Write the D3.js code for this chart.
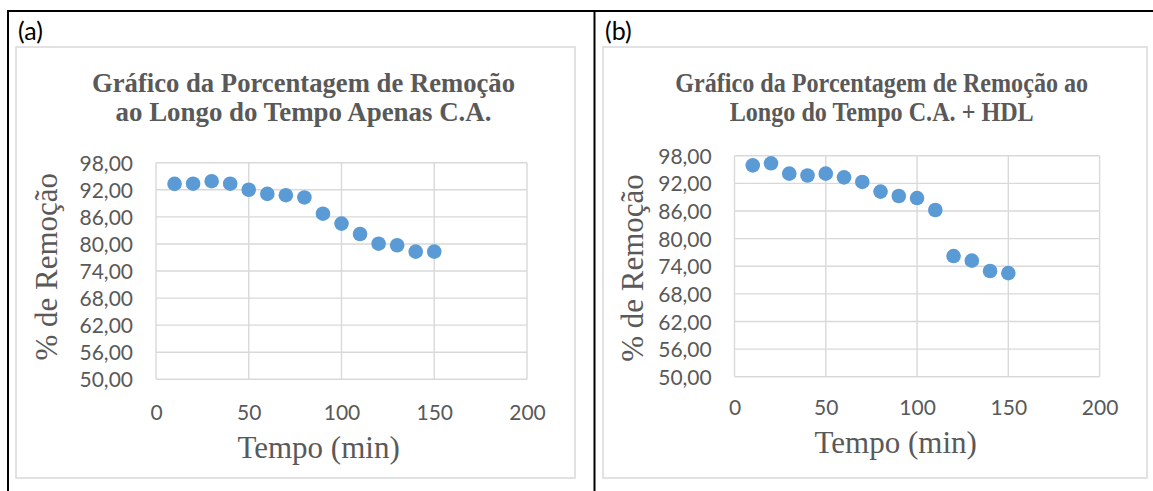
<!DOCTYPE html>
<html>
<head>
<meta charset="utf-8">
<script src="https://cdn.jsdelivr.net/npm/d3@7"></script>
<style>
  html, body { margin: 0; padding: 0; background: #fff; }
  svg { display: block; }
</style>
</head>
<body>
<svg id="fig" width="1153" height="491"></svg>
<script>
// Tempo de contato (min)
const tempo = [10, 20, 30, 40, 50, 60, 70, 80, 90, 100, 110, 120, 130, 140, 150];
// % de remoção, apenas carvão ativado
const remocaoCA = [93.3, 93.35, 93.9, 93.35, 92.0, 91.1, 90.8, 90.3, 86.7, 84.5, 82.2, 80.05, 79.7, 78.3, 78.3];
// % de remoção, carvão ativado + HDL
const remocaoCAHDL = [95.9, 96.35, 94.1, 93.7, 94.1, 93.3, 92.3, 90.2, 89.25, 88.8, 86.2, 76.2, 75.2, 72.95, 72.5];

const yTicks = [50, 56, 62, 68, 74, 80, 86, 92, 98];
const xTicks = [0, 50, 100, 150, 200];

const titlesA = ["Gráfico da Porcentagem de Remoção", "ao Longo do Tempo Apenas C.A."];
const titlesB = ["Gráfico da Porcentagem de Remoção ao", "Longo do Tempo C.A. + HDL"];

const svg = d3.select("#fig");
const grey = "#595959";
const gridColor = "#d9d9d9";
const dotColor = "#5b9bd5";
const fmt = v => v.toFixed(2).replace(".", ",");

// outer table frame
svg.append("line").attr("x1", 7).attr("x2", 1153).attr("y1", 11).attr("y2", 11)
  .attr("stroke", "#000").attr("stroke-width", 2);
svg.append("line").attr("x1", 8).attr("x2", 8).attr("y1", 10).attr("y2", 491)
  .attr("stroke", "#000").attr("stroke-width", 2);
svg.append("line").attr("x1", 594.5).attr("x2", 594.5).attr("y1", 10).attr("y2", 491)
  .attr("stroke", "#000").attr("stroke-width", 2);

const panels = [
  {
    tag: "(a)", tagX: 18, values: remocaoCA, titles: titlesA,
    box: [16, 47, 575, 478],
    plot: { l: 156, r: 527, t: 162.7, b: 379.3 },
    titleX: 303.5, titleW: [423, 376],
    yLabelX: 133, xLabelY: 412.7,
    xTitle: { x: 318.6, y: 458 },
    yTitle: { x: 57, y: 266.7 }
  },
  {
    tag: "(b)", tagX: 605, values: remocaoCAHDL, titles: titlesB,
    box: [603, 47, 1147, 478],
    plot: { l: 734.5, r: 1099.6, t: 155.7, b: 376.7 },
    titleX: 881.7, titleW: [413, 304],
    yLabelX: 711.7, xLabelY: 407.7,
    xTitle: { x: 895.7, y: 453.3 },
    yTitle: { x: 643, y: 268 }
  }
];

panels.forEach(p => {
  const g = svg.append("g");

  // panel tag
  g.append("text").attr("x", p.tagX).attr("y", 40)
    .attr("font-family", "Lato, 'Open Sans', sans-serif").attr("font-size", 25)
    .attr("fill", "#000").text(p.tag);

  // chart area border
  g.append("rect")
    .attr("x", p.box[0]).attr("y", p.box[1])
    .attr("width", p.box[2] - p.box[0]).attr("height", p.box[3] - p.box[1])
    .attr("fill", "#fff").attr("stroke", gridColor).attr("stroke-width", 1.5);

  // title, two lines
  p.titles.forEach((t, i) => {
    g.append("text")
      .attr("x", p.titleX).attr("y", 92 + i * 29)
      .attr("text-anchor", "middle")
      .attr("font-family", "'Liberation Serif', 'Times New Roman', serif")
      .attr("font-weight", "bold").attr("font-size", 27)
      .attr("fill", grey)
      .attr("textLength", p.titleW[i]).attr("lengthAdjust", "spacingAndGlyphs")
      .text(t);
  });

  const x = d3.scaleLinear().domain([0, 200]).range([p.plot.l, p.plot.r]);
  const y = d3.scaleLinear().domain([50, 98]).range([p.plot.b, p.plot.t]);

  // gridlines
  g.append("g").selectAll("line.h").data(yTicks).join("line")
    .attr("x1", p.plot.l).attr("x2", p.plot.r)
    .attr("y1", d => y(d)).attr("y2", d => y(d))
    .attr("stroke", gridColor).attr("stroke-width", 1.4);
  g.append("g").selectAll("line.v").data(xTicks).join("line")
    .attr("y1", p.plot.t).attr("y2", p.plot.b)
    .attr("x1", d => x(d)).attr("x2", d => x(d))
    .attr("stroke", gridColor).attr("stroke-width", 1.4);

  // y axis labels
  const yAxis = d3.axisLeft(y).tickValues(yTicks).tickFormat(fmt).tickSize(0).tickPadding(0);
  const ya = g.append("g").attr("transform", `translate(${p.yLabelX},0)`).call(yAxis);
  ya.select(".domain").remove();
  ya.selectAll("text").attr("font-family", "Lato, 'Open Sans', sans-serif")
    .attr("font-size", 21).attr("fill", grey).attr("dy", "0.36em");

  // x axis labels
  const xAxis = d3.axisBottom(x).tickValues(xTicks).tickFormat(d3.format("d")).tickSize(0).tickPadding(0);
  const xa = g.append("g").attr("transform", `translate(0,${p.xLabelY})`).call(xAxis);
  xa.select(".domain").remove();
  xa.selectAll("text").attr("font-family", "Lato, 'Open Sans', sans-serif")
    .attr("font-size", 21).attr("fill", grey).attr("dy", "0.36em");

  // axis titles
  g.append("text").attr("x", p.xTitle.x).attr("y", p.xTitle.y)
    .attr("text-anchor", "middle")
    .attr("font-family", "'Liberation Serif', 'Times New Roman', serif")
    .attr("font-size", 31).attr("fill", grey).text("Tempo (min)");
  g.append("text")
    .attr("transform", `translate(${p.yTitle.x},${p.yTitle.y}) rotate(-90)`)
    .attr("text-anchor", "middle")
    .attr("font-family", "'Liberation Serif', 'Times New Roman', serif")
    .attr("font-size", 31).attr("fill", grey).text("% de Remoção");

  // points
  g.append("g").selectAll("circle").data(tempo).join("circle")
    .attr("cx", d => x(d)).attr("cy", (d, i) => y(p.values[i]))
    .attr("r", 7.3).attr("fill", dotColor);
});
</script>
</body>
</html>
